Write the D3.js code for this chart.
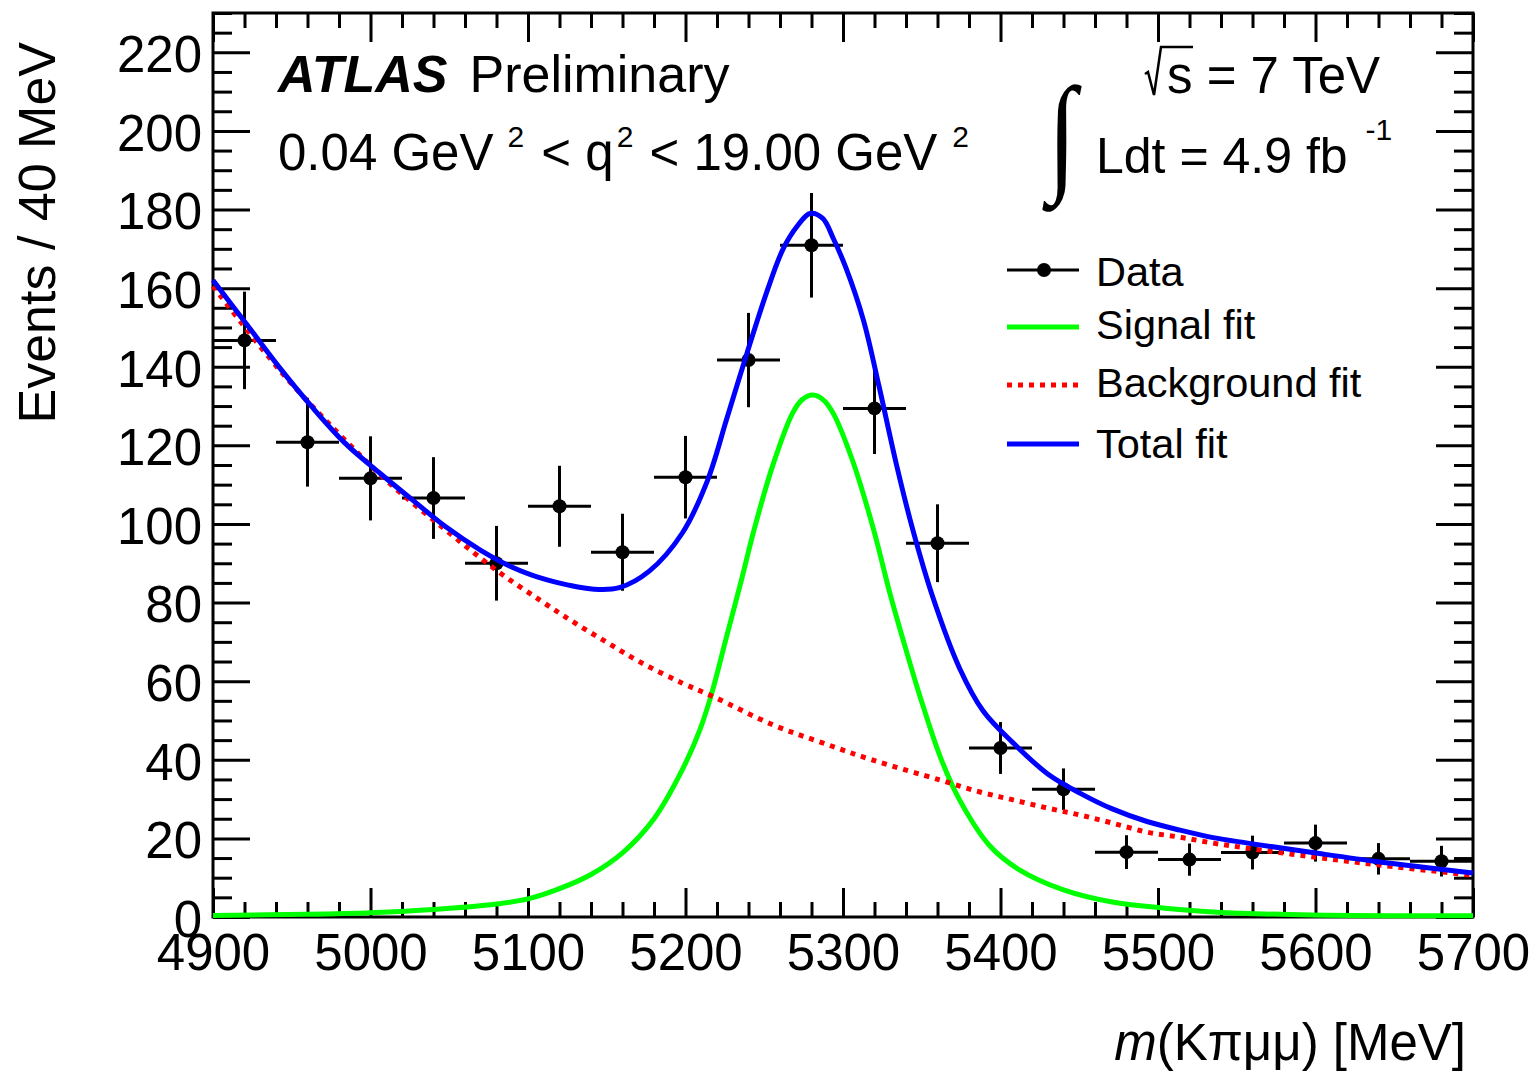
<!DOCTYPE html>
<html>
<head>
<meta charset="utf-8">
<script src="https://cdn.jsdelivr.net/npm/d3@7"></script>
<style>
  html, body { margin: 0; padding: 0; background: #fff; }
  svg { display: block; font-family: "Liberation Sans", Arial, Helvetica, sans-serif; }
</style>
</head>
<body>
<svg id="chart" width="1531" height="1072"></svg>
<script>
// ---- Binned data: 40 MeV bins ----
const binCenters = [4920, 4960, 5000, 5040, 5080, 5120, 5160, 5200, 5240, 5280,
                    5320, 5360, 5400, 5440, 5480, 5520, 5560, 5600, 5640, 5680];
const eventCounts = [146.7, 120.8, 111.6, 106.6, 90.0, 104.5, 92.8, 111.9, 141.7, 170.9,
                     129.4, 95.1, 43.0, 32.5, 16.5, 14.6, 16.4, 18.8, 14.8, 14.2];
const eventErrors = [12.4, 11.3, 10.7, 10.4, 9.5, 10.3, 9.8, 10.5, 12.0, 13.3,
                     11.6, 9.9, 6.6, 5.3, 4.3, 4.1, 4.3, 4.7, 4.0, 3.9];
const binHalfWidth = 20;

// ---- Fit curves, sampled ----
const signalMass = [4900, 4960, 5000, 5040, 5080, 5100, 5120, 5140, 5160, 5180, 5198, 5209,
                    5216, 5226, 5236, 5243, 5255, 5268, 5274, 5281, 5288, 5294, 5306, 5319,
                    5330, 5336, 5349, 5362, 5374, 5393, 5412, 5440, 5471, 5503, 5535, 5598, 5700];
const signalFit  = [0.4, 0.7, 1.1, 1.9, 3.3, 4.6, 7.2, 10.8, 16.3, 25.0, 37.5, 47.5,
                    56.0, 71.2, 86.5, 97.7, 114.4, 128.2, 131.6, 132.8, 131.4, 128.0, 116.2, 99.2,
                    82.0, 73.5, 56.0, 40.5, 29.8, 18.2, 12.0, 6.9, 3.8, 2.3, 1.3, 0.5, 0.3];

const backgroundMass = [4900, 4942, 4979, 5012, 5048, 5080, 5108, 5129, 5150, 5171, 5198, 5218,
                        5256, 5287, 5319, 5362, 5387, 5408, 5430, 5451, 5471, 5493, 5514, 5535,
                        5557, 5598, 5641, 5700];
const backgroundFit  = [160.5, 139.3, 123.3, 110.4, 98.4, 88.2, 80.5, 75.0, 69.9, 64.9, 59.5, 56.0,
                        48.8, 44.3, 39.9, 34.8, 31.8, 29.8, 27.7, 25.9, 23.9, 21.6, 20.3, 18.8,
                        17.5, 15.3, 13.2, 10.6];

const totalMass = [4900, 4921, 4942, 4963, 4984, 5006, 5027, 5048, 5070, 5090, 5110, 5125,
                   5142, 5158, 5177, 5198, 5214, 5226, 5239, 5252, 5262, 5271, 5279, 5287,
                   5294, 5302, 5313, 5323, 5334, 5344, 5357, 5374, 5389, 5408, 5430, 5451,
                   5471, 5493, 5514, 5535, 5557, 5598, 5641, 5700];
const totalFit  = [162.0, 151.0, 139.9, 129.7, 120.5, 112.9, 106.0, 99.2, 93.3, 89.0, 86.0, 84.5,
                   83.4, 83.8, 88.0, 97.7, 111.1, 126.5, 143.4, 159.5, 170.0, 175.8, 179.0, 177.8,
                   172.5, 165.0, 151.8, 134.8, 115.0, 99.0, 81.4, 63.3, 52.4, 44.3, 36.4, 31.4,
                   27.5, 24.3, 22.1, 20.2, 18.8, 16.4, 14.0, 11.2];

// ---- Axis ticks ----
const xTickLabels = [4900, 5000, 5100, 5200, 5300, 5400, 5500, 5600, 5700];
const yTickLabels = [0, 20, 40, 60, 80, 100, 120, 140, 160, 180, 200, 220];
const xMinorStep = 20;
const yMinorStep = 5;

// ---- Legend entries ----
const legendLabels = ["Data", "Signal fit", "Background fit", "Total fit"];
const legendColors = ["#000000", "#00ff00", "#ff0000", "#0000ff"];

// ---- Layout ----
const plot = { left: 213, right: 1473, top: 13, bottom: 917 };
const x = d3.scaleLinear().domain([4900, 5700]).range([plot.left, plot.right]);
const y = d3.scaleLinear().domain([0, 230]).range([plot.bottom, plot.top]);

const svg = d3.select("#chart");
const font = '"Liberation Sans", Arial, Helvetica, sans-serif';

const xMinor = d3.range(4900, 5700 + 1, xMinorStep).filter(v => v % 100 !== 0);
const yMinor = d3.range(0, 230 + 0.1, yMinorStep).filter(v => v % 20 !== 0);

function cleanAxis(sel) {
  sel.select(".domain").remove();
  sel.selectAll(".tick line").attr("stroke", "#000").attr("stroke-width", 3);
  sel.selectAll(".tick text").attr("fill", "#000").attr("font-size", 51)
     .attr("font-family", font);
  sel.attr("font-family", font);
}

const axes = svg.append("g").attr("class", "axes");

// bottom
axes.append("g").attr("transform", `translate(0,${plot.bottom})`)
  .call(d3.axisBottom(x).tickValues(xMinor).tickSize(-15).tickFormat(""))
  .call(cleanAxis);
axes.append("g").attr("transform", `translate(0,${plot.bottom})`)
  .call(d3.axisBottom(x).tickValues(xTickLabels).tickSize(-29).tickPadding(17).tickFormat(d3.format("d")))
  .call(cleanAxis);
// top
axes.append("g").attr("transform", `translate(0,${plot.top})`)
  .call(d3.axisTop(x).tickValues(xMinor).tickSize(-15).tickFormat(""))
  .call(cleanAxis);
axes.append("g").attr("transform", `translate(0,${plot.top})`)
  .call(d3.axisTop(x).tickValues(xTickLabels).tickSize(-29).tickFormat(""))
  .call(cleanAxis);
// left
axes.append("g").attr("transform", `translate(${plot.left},0)`)
  .call(d3.axisLeft(y).tickValues(yMinor).tickSize(-19).tickFormat(""))
  .call(cleanAxis);
const leftMajor = axes.append("g").attr("transform", `translate(${plot.left},0)`)
  .call(d3.axisLeft(y).tickValues(yTickLabels).tickSize(-37).tickPadding(11).tickFormat(d3.format("d")))
  .call(cleanAxis);
leftMajor.selectAll(".tick text").attr("dy", "0.38em");
// right
axes.append("g").attr("transform", `translate(${plot.right},0)`)
  .call(d3.axisRight(y).tickValues(yMinor).tickSize(-19).tickFormat(""))
  .call(cleanAxis);
axes.append("g").attr("transform", `translate(${plot.right},0)`)
  .call(d3.axisRight(y).tickValues(yTickLabels).tickSize(-37).tickFormat(""))
  .call(cleanAxis);

// frame
svg.append("rect")
  .attr("x", plot.left).attr("y", plot.top)
  .attr("width", plot.right - plot.left).attr("height", plot.bottom - plot.top)
  .attr("fill", "none").attr("stroke", "#000").attr("stroke-width", 3);

// ---- Data points with error bars ----
const dataG = svg.append("g").attr("class", "data");
binCenters.forEach((m, i) => {
  const v = eventCounts[i], e = eventErrors[i];
  dataG.append("line")
    .attr("x1", x(m - binHalfWidth)).attr("x2", x(m + binHalfWidth))
    .attr("y1", y(v)).attr("y2", y(v))
    .attr("stroke", "#000").attr("stroke-width", 3);
  dataG.append("line")
    .attr("x1", x(m)).attr("x2", x(m))
    .attr("y1", y(v - e)).attr("y2", y(v + e))
    .attr("stroke", "#000").attr("stroke-width", 3);
  dataG.append("circle")
    .attr("cx", x(m)).attr("cy", y(v)).attr("r", 7).attr("fill", "#000");
});

// ---- Fit curves ----
const line = d3.line().x(d => x(d[0])).y(d => y(d[1])).curve(d3.curveCatmullRom.alpha(0.5));
const curves = svg.append("g").attr("class", "curves").attr("fill", "none")
  .attr("stroke-linejoin", "round");
curves.append("path")
  .attr("d", line(d3.zip(signalMass, signalFit)))
  .attr("stroke", "#00ff00").attr("stroke-width", 5);
curves.append("path")
  .attr("d", line(d3.zip(backgroundMass, backgroundFit)))
  .attr("stroke", "#ff0000").attr("stroke-width", 5).attr("stroke-dasharray", "5,6");
curves.append("path")
  .attr("d", line(d3.zip(totalMass, totalFit)))
  .attr("stroke", "#0000ff").attr("stroke-width", 5);

// ---- Axis titles ----
svg.append("text")
  .attr("transform", "translate(55,42) rotate(-90)")
  .attr("text-anchor", "end").attr("font-size", 52).attr("font-family", font)
  .text("Events / 40 MeV");

const xTitle = svg.append("text")
  .attr("x", 1466).attr("y", 1060).attr("text-anchor", "end")
  .attr("font-size", 51).attr("font-family", font);
xTitle.append("tspan").attr("font-style", "italic").text("m");
xTitle.append("tspan").text("(K\u03C0\u03BC\u03BC) [MeV]");

// ---- Labels inside the frame ----
const lab = svg.append("g").attr("font-family", font).attr("fill", "#000");
const atlas = lab.append("text").attr("x", 278).attr("y", 92).attr("font-size", 52);
atlas.append("tspan").attr("font-weight", "bold").attr("font-style", "italic").text("ATLAS");
atlas.append("tspan").attr("dx", 22).text("Preliminary");

const q2 = lab.append("text").attr("x", 278).attr("y", 170).attr("font-size", 51);
q2.append("tspan").text("0.04 GeV");
q2.append("tspan").attr("font-size", 30).attr("dx", 14).attr("dy", -23).text("2");
q2.append("tspan").attr("dx", 3).attr("dy", 23).text(" < q");
q2.append("tspan").attr("font-size", 30).attr("dx", 3).attr("dy", -23).text("2");
q2.append("tspan").attr("dx", 2).attr("dy", 23).text(" < 19.00 GeV");
q2.append("tspan").attr("font-size", 30).attr("dx", 15).attr("dy", -23).text("2");

// centre-of-mass energy with radical sign
lab.append("path")
  .attr("d", "M1145,74 L1148,72 L1154,95 L1161,47 L1193,47")
  .attr("fill", "none").attr("stroke", "#000").attr("stroke-width", 2.5);
lab.append("text").attr("x", 1167).attr("y", 93).attr("font-size", 51).text("s = 7 TeV");

// integrated luminosity
lab.append("text").attr("transform", "translate(1048,177) scale(0.8,1)")
  .attr("font-size", 130)
  .attr("font-family", '"Liberation Serif", serif').text("\u222B");
const lumi = lab.append("text").attr("x", 1096).attr("y", 173).attr("font-size", 50);
lumi.append("tspan").text("Ldt = 4.9 fb");
lumi.append("tspan").attr("font-size", 30).attr("dx", 18).attr("dy", -33).text("-1");

// ---- Legend ----
const legendLineY = [270, 327, 385, 444];
const legendTextY = [286, 339, 397, 458];
const leg = svg.append("g").attr("class", "legend");
legendLabels.forEach((name, i) => {
  const ln = leg.append("line")
    .attr("x1", 1007).attr("x2", 1079)
    .attr("y1", legendLineY[i]).attr("y2", legendLineY[i])
    .attr("stroke", legendColors[i]).attr("stroke-width", i === 0 ? 3 : 5);
  if (i === 2) ln.attr("stroke-dasharray", "5,6");
  if (i === 0) {
    leg.append("circle").attr("cx", 1044).attr("cy", legendLineY[i]).attr("r", 7).attr("fill", "#000");
  }
  leg.append("text")
    .attr("x", 1096).attr("y", legendTextY[i])
    .attr("font-size", 41.5).attr("font-family", font)
    .text(name);
});
</script>
</body>
</html>
